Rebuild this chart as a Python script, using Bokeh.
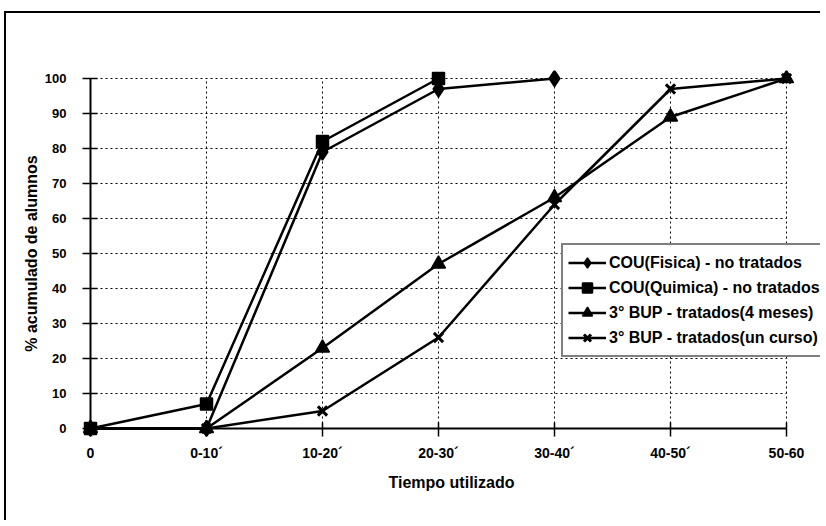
from bokeh.plotting import figure
from bokeh.models import Range1d, FixedTicker, Legend, LegendItem
from bokeh.embed import file_html
from bokeh.resources import INLINE

# ---- data ----
categories = ["0", "0-10´", "10-20´", "20-30´", "30-40´", "40-50´", "50-60"]
cou_fisica = [0, 0, 79, 97, 100]
cou_quimica = [0, 7, 82, 100]
bup_4meses = [0, 0, 23, 47, 66, 89, 100]
bup_curso = [0, 0, 5, 26, 64, 97, 100]
y_ticks = [0, 10, 20, 30, 40, 50, 60, 70, 80, 90, 100]
series_labels = [
    "COU(Fisica) - no tratados",
    "COU(Quimica) - no tratados",
    "3° BUP - tratados(4 meses)",
    "3° BUP - tratados(un curso)",
]
x_title = "Tiempo utilizado"
y_title = "% acumulado de alumnos"

FONT = "Liberation Sans"
n_cat = len(categories)
x_max = n_cat - 1
y_max = y_ticks[-1]

px_x = 116.0
px_y = 3.5
pad = 8.0
frame_w = 738
frame_h = int(y_max * px_y + 2 * pad)

p = figure(
    output_backend="svg",
    toolbar_location=None,
    frame_width=frame_w,
    frame_height=frame_h,
    x_range=Range1d(-pad / px_x, (frame_w - pad) / px_x),
    y_range=Range1d(-pad / px_y, y_max + pad / px_y),
    min_border_left=76,
    min_border_right=0,
    min_border_top=57,
    min_border_bottom=84,
    background_fill_color="white",
    border_fill_color="white",
)
p.margin = (11, 0, 0, 4)
p.styles = {"border-top": "2px solid black", "border-left": "2px solid black"}
p.outline_line_color = None
p.xgrid.visible = False
p.ygrid.visible = False

# dotted grid lines at tick positions
hy = y_ticks[1:]
p.segment(x0=[0] * len(hy), x1=[x_max] * len(hy), y0=hy, y1=hy,
          line_color="black", line_width=1, line_dash="2 3")
vx = list(range(1, n_cat))
p.segment(x0=vx, x1=vx, y0=[0] * len(vx), y1=[y_max] * len(vx),
          line_color="black", line_width=1, line_dash="2 3")

# axis lines through the origin
p.segment(x0=[0, 0], x1=[x_max, 0], y0=[0, 0], y1=[0, y_max],
          line_color="black", line_width=2)

# axes (labels and ticks)
p.xaxis.bounds = (0, x_max)
p.xaxis.ticker = FixedTicker(ticks=list(range(n_cat)))
p.xaxis.major_label_overrides = {i: c for i, c in enumerate(categories)}
p.xaxis.axis_line_color = None
p.xaxis.major_tick_in = 14
p.xaxis.major_tick_out = 0
p.xaxis.major_tick_line_width = 1.5
p.xaxis.minor_tick_line_color = None
p.xaxis.major_label_standoff = 8
p.xaxis.major_label_text_font = FONT
p.xaxis.major_label_text_font_style = "bold"
p.xaxis.major_label_text_font_size = "14px"
p.xaxis.major_label_text_color = "black"
p.xaxis.axis_label = x_title
p.xaxis.axis_label_text_font = FONT
p.xaxis.axis_label_text_font_style = "bold"
p.xaxis.axis_label_text_font_size = "16px"
p.xaxis.axis_label_text_color = "black"
p.xaxis.axis_label_standoff = 10

p.yaxis.bounds = (0, y_max)
p.yaxis.ticker = FixedTicker(ticks=y_ticks)
p.yaxis.axis_line_color = None
p.yaxis.major_tick_in = 15
p.yaxis.major_tick_out = 0
p.yaxis.major_tick_line_width = 1.5
p.yaxis.minor_tick_line_color = None
p.yaxis.major_label_standoff = 16
p.yaxis.major_label_text_font = FONT
p.yaxis.major_label_text_font_style = "bold"
p.yaxis.major_label_text_font_size = "13px"
p.yaxis.major_label_text_color = "black"
p.yaxis.axis_label = y_title
p.yaxis.axis_label_text_font = FONT
p.yaxis.axis_label_text_font_style = "bold"
p.yaxis.axis_label_text_font_size = "16px"
p.yaxis.axis_label_text_color = "black"
p.yaxis.axis_label_standoff = 2

series = [cou_fisica, cou_quimica, bup_4meses, bup_curso]
markers = ["diamond", "square", "triangle", "x"]
sizes = [16, 12, 14, 13]

items = []
for vals, mk, sz, lab in zip(series, markers, sizes, series_labels):
    xs = list(range(len(vals)))
    lr = p.line(xs, vals, line_color="black", line_width=2.5)
    if mk == "x":
        sr = p.scatter(xs, vals, marker=mk, size=sz, line_color="black",
                       line_width=3)
    else:
        sr = p.scatter(xs, vals, marker=mk, size=sz, fill_color="black",
                       line_color="black", line_width=1.5)
    items.append(LegendItem(label=lab, renderers=[lr, sr]))

legend = Legend(
    items=items,
    location=(479, 79),
    orientation="vertical",
    label_text_font=FONT,
    label_text_font_style="bold",
    label_text_font_size="16px",
    label_text_color="black",
    label_height=25,
    glyph_height=25,
    glyph_width=38,
    label_standoff=3,
    spacing=0,
    padding=5,
    margin=0,
    border_line_color="black",
    border_line_width=2,
    background_fill_color="white",
    background_fill_alpha=1.0,
)
p.add_layout(legend, "center")

open("out.html", "w").write(file_html(p, INLINE))
